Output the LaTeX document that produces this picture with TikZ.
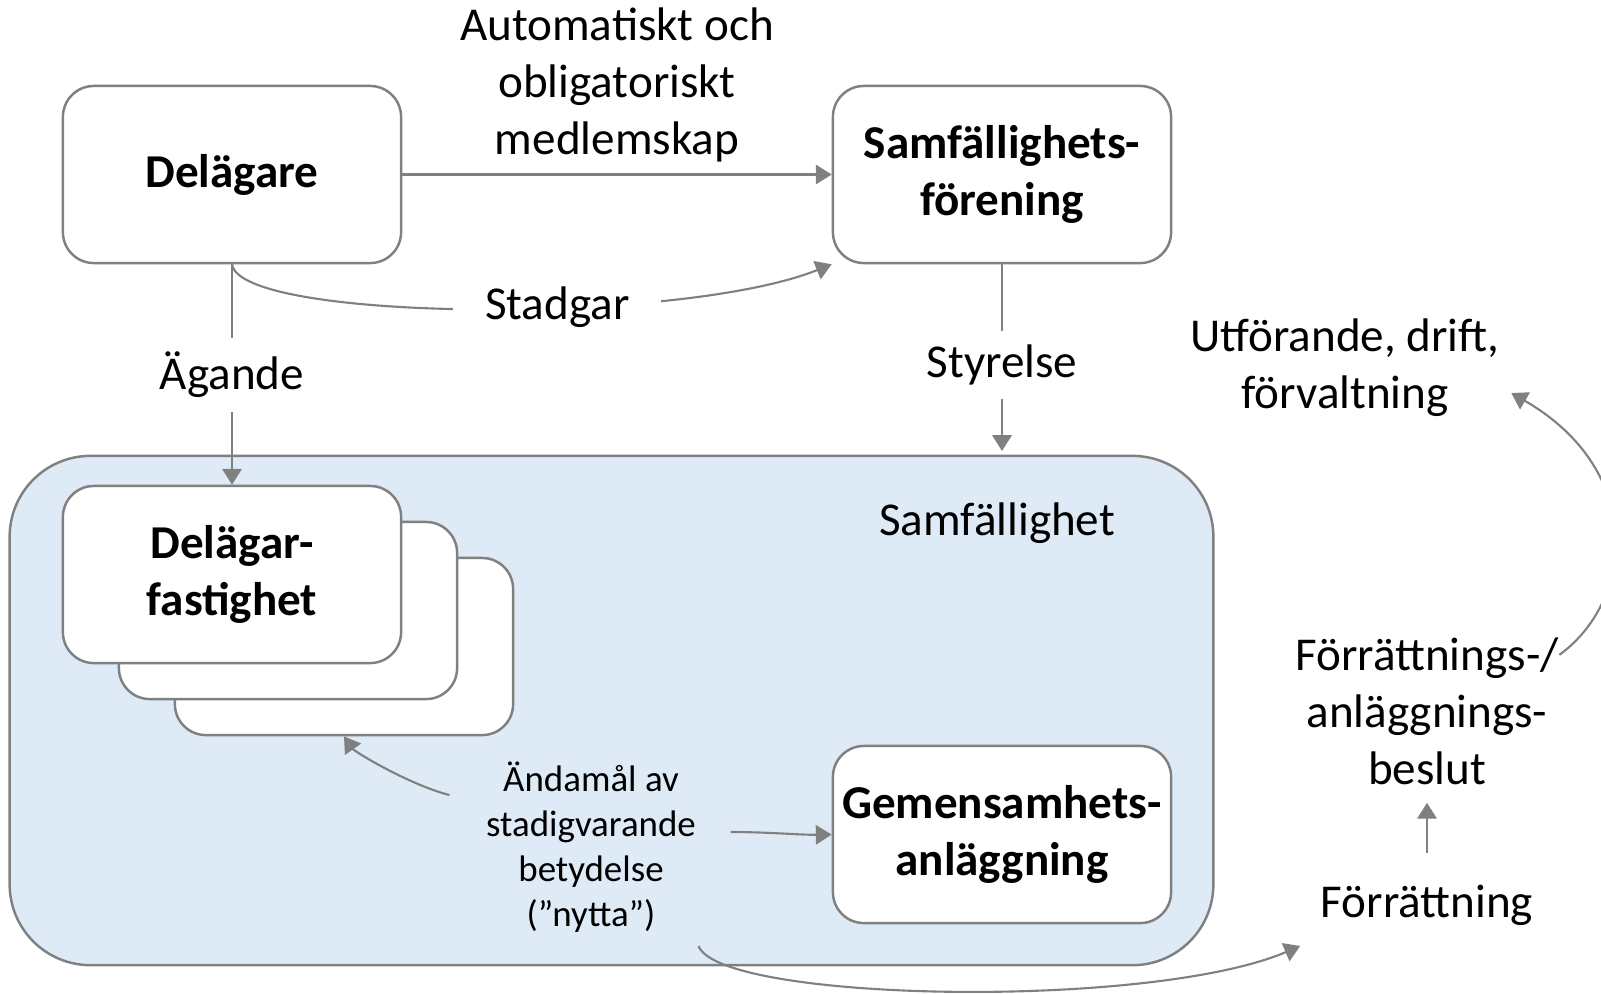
\documentclass[tikz,border=0pt]{standalone}
\usepackage{fontspec}
\setmainfont{Carlito}
\usetikzlibrary{arrows.meta, positioning, calc}
\definecolor{linegray}{RGB}{128,128,128}
\definecolor{samfblue}{RGB}{222,235,247}

\begin{document}
\begin{tikzpicture}[x=0.01cm, y=-0.01cm,
    font=\fontsize{13.4}{16.2}\selectfont,
    box/.style={draw=linegray, line width=0.7pt, fill=white, rounded corners=8.8pt,
        minimum width=3.38cm, minimum height=1.77cm, align=center, inner sep=0pt,
        font=\fontsize{13.4}{16.2}\selectfont\bfseries},
    lbl/.style={align=center, inner sep=0pt},
    gap/.style={fill=white, inner xsep=9pt, inner ysep=4pt},
    conn/.style={draw=linegray, line width=0.6pt, -{Triangle[length=4.5pt, width=5.5pt]}}]
    \useasboundingbox (0,0) rectangle (1601,993);

    % Samfällighet area
    \node[draw=linegray, line width=0.7pt, fill=samfblue, rounded corners=23pt,
        minimum width=12.03cm, minimum height=5.09cm] (samf) at (611.5,710.5) {};
    \node[lbl] (samflbl) at (997,523) {Samfällighet};

    % Boxes
    \node[box] (delagare) at (232,174.5) {Delägare};
    \node[box] (forening) at (1002,174.5) {Samfällighets-\\förening};
    \node[box] (fast3) at (344,646.5) {};
    \node[box] (fast2) at (288,610.5) {};
    \node[box] (fast1) at (232,574.5) {Delägar-\\fastighet};
    \node[box] (gemensam) at (1002,834.5) {Gemensamhets-\\anläggning};

    % Free labels
    \node[lbl] (medlem) at (617,85) {Automatiskt och\\obligatoriskt\\medlemskap};
    \node[lbl] (utf) at (1345,368) {Utförande, drift,\\förvaltning};
    \node[lbl] (beslut) at (1427,711) {Förrättnings-/\\anläggnings-\\beslut};
    \node[lbl] (forr) at (1427,905) {Förrättning};
    \node[lbl, font=\fontsize{10.5}{12.8}\selectfont] (andamal) at (591,847)
        {Ändamål av\\stadigvarande\\betydelse\\(”nytta”)};
    \coordinate (styrend) at (1002,451);

    % Connectors
    \draw[conn] (delagare) -- (forening);
    \draw[conn] (delagare.south) .. controls (240,322) and (680,325) .. (forening.south west)
        node[gap, pos=0.6] (stadgar) {Stadgar};
    \draw[conn] (delagare) -- node[gap] (agande) {Ägande} (fast1);
    \draw[conn] (forening) -- node[gap, pos=0.54] (styrelse) {Styrelse} (styrend);
    \draw[conn] ($(andamal.west)+(-36,-52)$) .. controls (410,785) and (355,752) .. (fast3.south);
    \draw[conn] ($(andamal.east)+(34,-15)$) .. controls (770,832) and (800,835) .. (gemensam.west);
    \draw[conn] ($(andamal.south east)+(2,13)$) .. controls (720,1002) and (1150,1010) .. ($(forr.south west)+(-20,20)$);
    \draw[conn, shorten <=8.8pt, shorten >=5pt] (forr) -- (beslut);
    \draw[conn] ($(beslut.north east)+(0,18)$) .. controls (1635,600) and (1645,470) .. ($(utf.east)+(11,25)$);
\end{tikzpicture}
\end{document}
